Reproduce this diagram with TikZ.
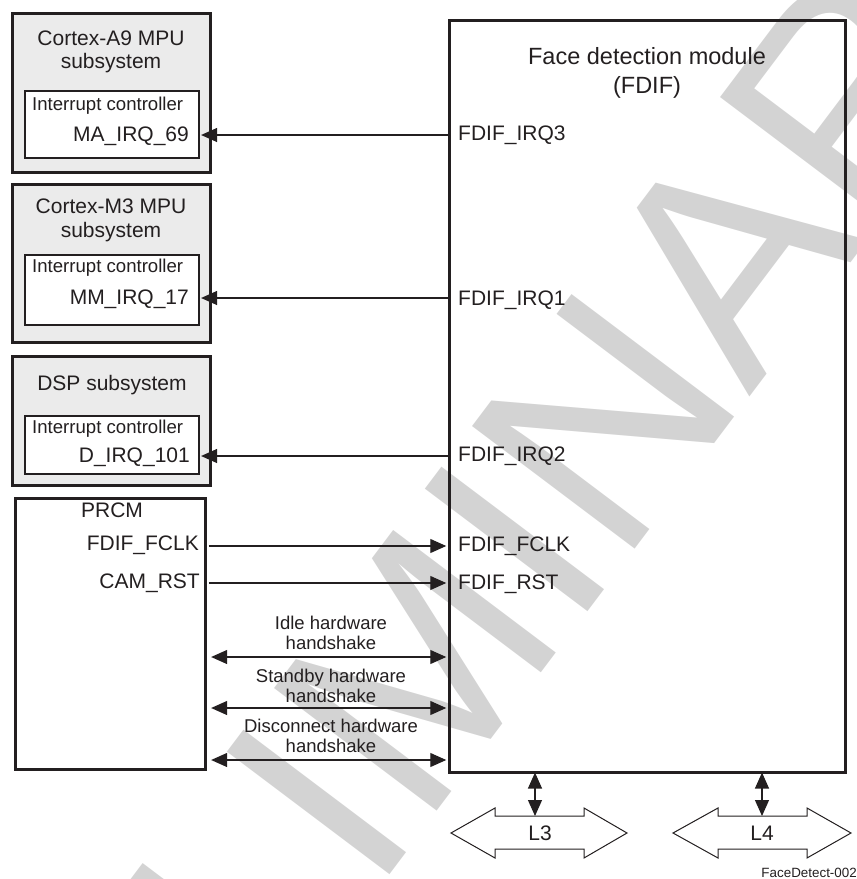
\documentclass[tikz,border=0pt]{standalone}
\usepackage{fontspec}
\setmainfont{Liberation Sans}
\usetikzlibrary{arrows.meta}
\definecolor{ink}{HTML}{231F20}
\definecolor{boxgray}{HTML}{EBEBEB}
\definecolor{wmgray}{HTML}{D3D3D3}
\tikzset{
  outerbox/.style={draw=ink, line width=3.3pt, fill=boxgray, inner sep=0pt},
  innerbox/.style={draw=ink, line width=2.2pt, fill=white, inner sep=0pt},
  plainbox/.style={draw=ink, line width=3.3pt, fill=white, inner sep=0pt},
  modbox/.style={draw=ink, line width=3.3pt, inner sep=0pt},
  ttl/.style={inner sep=0pt, text=ink, anchor=base, font=\fontsize{21}{23}\selectfont},
  sigtxt/.style={inner sep=0pt, text=ink, font=\fontsize{21}{23}\selectfont},
  ictxt/.style={inner sep=0pt, text=ink, anchor=base west, font=\fontsize{18.6}{20}\selectfont},
  hstxt/.style={inner sep=0pt, text=ink, anchor=base, font=\fontsize{18.5}{20}\selectfont},
  sig/.style={draw=ink, line width=1.2pt, -{Triangle[length=16pt,width=14pt]}},
  dsig/.style={draw=ink, line width=1.2pt, {Triangle[length=16pt,width=14pt]}-{Triangle[length=16pt,width=14pt]}},
  bus/.style={draw=ink, line width=1pt, fill=white},
  wmtext/.style={inner sep=0pt, text=wmgray, font=\fontsize{296}{296}\selectfont},
}
\begin{document}
\begin{tikzpicture}[x=1pt,y=-1pt]
\useasboundingbox (0,0) rectangle (857,879);
% watermark
\begin{scope}
\clip (0,0) rectangle (857,879);
\node[wmtext, anchor=base west, rotate=53] (wmark) at (-92,1514) {PRELIMINARY};
\end{scope}

% Cortex-A9
\node[outerbox, minimum width=198pt, minimum height=159pt] (a9) at (111.5,93) {};
\node[ttl] (a9t1) at (111,45.7) {Cortex-A9 MPU};
\node[ttl] (a9t2) at (111,68.3) {subsystem};
\node[innerbox, minimum width=174pt, minimum height=67pt] (a9in) at (112,124.5) {};
\node[ictxt] (a9ic) at (32,110) {Interrupt controller};
\node[sigtxt, anchor=base east] (ma) at (189,141.7) {MA\_IRQ\_69};

% Cortex-M3
\node[outerbox, minimum width=198pt, minimum height=158pt] (m3) at (111.5,263.5) {};
\node[ttl] (m3t1) at (111,213) {Cortex-M3 MPU};
\node[ttl] (m3t2) at (111,237) {subsystem};
\node[innerbox, minimum width=174pt, minimum height=70pt] (m3in) at (112,290) {};
\node[ictxt] (m3ic) at (32,272) {Interrupt controller};
\node[sigtxt, anchor=base east] (mm) at (189,304) {MM\_IRQ\_17};

% DSP
\node[outerbox, minimum width=198pt, minimum height=129pt] (dsp) at (111.5,421) {};
\node[ttl] (dspt) at (112,390) {DSP subsystem};
\node[innerbox, minimum width=174pt, minimum height=58pt] (dspin) at (112,445) {};
\node[ictxt] (dspic) at (32,433) {Interrupt controller};
\node[sigtxt, anchor=base east] (dirq) at (190,462) {D\_IRQ\_101};

% PRCM
\node[plainbox, minimum width=190pt, minimum height=271pt] (prcm) at (110.5,634) {};
\node[ttl] (prcmt) at (112,517) {PRCM};
\node[sigtxt, anchor=base east] (pfclk) at (199,550) {FDIF\_FCLK};
\node[sigtxt, anchor=base east] (prst) at (200,588) {CAM\_RST};

% FDIF
\node[modbox, minimum width=396pt, minimum height=752pt] (fdif) at (647.5,396.5) {};
\node[inner sep=0pt, text=ink, anchor=base, font=\fontsize{23.5}{26}\selectfont] (ft1) at (647,64) {Face detection module};
\node[inner sep=0pt, text=ink, anchor=base, font=\fontsize{23.5}{26}\selectfont] (ft2) at (647,93) {(FDIF)};
\node[sigtxt, anchor=base west] (firq3) at (458,140) {FDIF\_IRQ3};
\node[sigtxt, anchor=base west] (firq1) at (458,305) {FDIF\_IRQ1};
\node[sigtxt, anchor=base west] (firq2) at (458,461) {FDIF\_IRQ2};
\node[sigtxt, anchor=base west] (ffclk) at (458,551) {FDIF\_FCLK};
\node[sigtxt, anchor=base west] (frst) at (458,589) {FDIF\_RST};

% handshake labels
\node[hstxt] (h1a) at (331,629) {Idle hardware};
\node[hstxt] (h1b) at (331,649) {handshake};
\node[hstxt] (h2a) at (331,682) {Standby hardware};
\node[hstxt] (h2b) at (331,702) {handshake};
\node[hstxt] (h3a) at (331,732) {Disconnect hardware};
\node[hstxt] (h3b) at (331,752) {handshake};

% signal rows
\coordinate (r3) at (0,135);
\coordinate (r1) at (0,298);
\coordinate (r2) at (0,456);
\coordinate (rc) at (0,546);
\coordinate (rr) at (0,583);
\coordinate (rh1) at (0,657);
\coordinate (rh2) at (0,708);
\coordinate (rh3) at (0,760);

\draw[sig] (fdif.west |- r3) -- ([xshift=1pt]a9in.east |- r3);
\draw[sig] (fdif.west |- r1) -- ([xshift=1pt]m3in.east |- r1);
\draw[sig] (fdif.west |- r2) -- ([xshift=1pt]dspin.east |- r2);
\draw[sig] ([xshift=1.6pt]prcm.east |- rc) -- ([xshift=-1.6pt]fdif.west |- rc);
\draw[sig] ([xshift=1.6pt]prcm.east |- rr) -- ([xshift=-1.6pt]fdif.west |- rr);
\draw[dsig] ([xshift=4pt]prcm.east |- rh1) -- ([xshift=-1.6pt]fdif.west |- rh1);
\draw[dsig] ([xshift=4pt]prcm.east |- rh2) -- ([xshift=-1.6pt]fdif.west |- rh2);
\draw[dsig] ([xshift=4pt]prcm.east |- rh3) -- ([xshift=-1.6pt]fdif.west |- rh3);

% buses
\draw[bus] (451,833) -- (495,808) -- (495,816) -- (584,816) -- (584,808) -- (627,833)
  -- (584,858) -- (584,849) -- (495,849) -- (495,858) -- cycle;
\draw[bus] (673,833) -- (718,808) -- (718,816) -- (807,816) -- (807,808) -- (851,833)
  -- (807,858) -- (807,849) -- (718,849) -- (718,858) -- cycle;
\coordinate (l3top) at (535,816);
\coordinate (l4top) at (762,816);
\node[sigtxt, anchor=base] (l3) at (540,840) {L3};
\node[sigtxt, anchor=base] (l4) at (762,840) {L4};
\draw[dsig] ([yshift=1.6pt]fdif.south -| l3top) -- (l3top);
\draw[dsig] ([yshift=1.6pt]fdif.south -| l4top) -- (l4top);

\node[inner sep=0pt, text=ink, anchor=base east, font=\fontsize{13.4}{15}\selectfont] (fig) at (857,877) {FaceDetect-002};
\end{tikzpicture}
\end{document}
